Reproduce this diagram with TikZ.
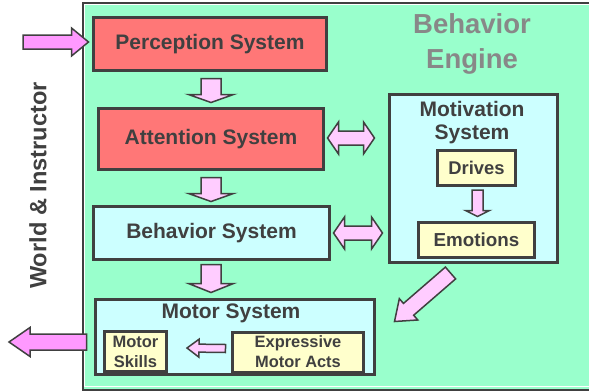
\documentclass[tikz,border=0pt]{standalone}
\usepackage{fontspec}
\setmainfont{Liberation Sans}
\usetikzlibrary{calc}
\definecolor{dk}{HTML}{404040}
\definecolor{engfill}{HTML}{99FFCC}
\definecolor{redbox}{HTML}{FF7777}
\definecolor{cyanbox}{HTML}{CCFFFF}
\definecolor{yelbox}{HTML}{FFFFCC}
\definecolor{pinkl}{HTML}{FFCCFF}
\definecolor{pinks}{HTML}{FF99FF}
\definecolor{titlegray}{HTML}{888888}
\newcommand{\fatarrow}[6][]{%
  \path ($(#3)!#6!(#2)$) coordinate (fah);
  \draw[fat,#1] ($(#2)!#4!90:(#3)$) -- ($(fah)!#4!90:(#3)$) -- ($(fah)!#5!90:(#3)$) -- (#3)
    -- ($(fah)!#5!-90:(#3)$) -- ($(fah)!#4!-90:(#3)$) -- ($(#2)!#4!-90:(#3)$) -- cycle;}
\newcommand{\dblfatarrow}[6][]{%
  \path ($(#2)!#6!(#3)$) coordinate (dha) ($(#3)!#6!(#2)$) coordinate (dhb);
  \draw[fat,#1] (#2) -- ($(dha)!#5!90:(#3)$) -- ($(dha)!#4!90:(#3)$) -- ($(dhb)!#4!90:(#3)$)
    -- ($(dhb)!#5!90:(#3)$) -- (#3) -- ($(dhb)!#5!-90:(#3)$) -- ($(dhb)!#4!-90:(#3)$)
    -- ($(dha)!#4!-90:(#3)$) -- ($(dha)!#5!-90:(#3)$) -- cycle;}
\tikzset{
  box/.style={draw=dk, line width=3pt, inner sep=0pt, text=dk, align=center,
    font=\bfseries\fontsize{21}{23}\selectfont},
  smallbox/.style={box, fill=yelbox},
  fat/.style={draw=dk, line width=1.5pt, fill=pinkl, line join=miter},
  plain/.style={inner sep=0pt, text=dk, align=center}
}
\begin{document}
\begin{tikzpicture}[x=1pt,y=-1pt]
\useasboundingbox (0,0) rectangle (589,391);
% engine
\node[draw=dk, line width=1.5pt, fill=engfill, minimum width=518pt, minimum height=387pt, inner sep=0pt, anchor=north west] (engine) at (82,2) {};
\draw[white, line width=1.2pt] (84.3,4.3) -- (600,4.3) (84.3,4.3) -- (84.3,386.7) -- (600,386.7);
\node[plain, text=titlegray, font=\bfseries\fontsize{27.5}{35}\selectfont] (engtitle) at (472,44) {Behavior\\Engine};
% world
\node[plain, rotate=90, font=\bfseries\fontsize{23.6}{26}\selectfont] (world) at (38,185.5) {World \& Instructor};
% boxes
\node[box, fill=redbox, minimum width=233pt, minimum height=53pt] (perc) at (210,44) {Perception System};
\node[box, fill=redbox, minimum width=225pt, minimum height=61pt] (att) at (211,139) {Attention System};
\node[box, fill=cyanbox, minimum width=236pt, minimum height=53pt] (beh) at (211.5,233) {Behavior System};
\node[box, fill=cyanbox, minimum width=279pt, minimum height=75pt] (motor) at (235,337) {};
\node[plain, font=\bfseries\fontsize{21}{23}\selectfont] (motortitle) at (231,313) {Motor System};
\node[smallbox, minimum width=62pt, minimum height=40pt, font=\bfseries\fontsize{16.5}{20}\selectfont] (skills) at (135.5,351.5) {Motor\\Skills};
\node[smallbox, minimum width=131pt, minimum height=40pt, font=\bfseries\fontsize{16.4}{20}\selectfont] (expr) at (298,352) {Expressive\\Motor Acts};
\node[box, fill=cyanbox, minimum width=168pt, minimum height=168pt] (motiv) at (473.5,178.5) {};
\node[plain, font=\bfseries\fontsize{21}{23}\selectfont] (motivtitle) at (472,123) {Motivation\\System};
\node[smallbox, minimum width=78pt, minimum height=35pt, font=\bfseries\fontsize{18.4}{21}\selectfont] (drives) at (476.5,168) {Drives};
\node[smallbox, minimum width=116pt, minimum height=35pt, font=\bfseries\fontsize{18.8}{21}\selectfont] (emo) at (476.5,240) {Emotions};
% arrow end points
\coordinate (a1s) at ($(perc.south)+(1,6.5)$);
\coordinate (a1e) at ($(att.north)+(0,-4.5)$);
\coordinate (a2s) at ($(att.south)+(0,6.5)$);
\coordinate (a2e) at ($(beh.north)+(-0.5,-3.5)$);
\coordinate (a3s) at ($(beh.south)+(-0.5,3.5)$);
\coordinate (a3e) at ($(beh.south |- motor.north)+(-0.5,-5.5)$);
\coordinate (d1a) at ($(att.east)+(2.5,-1)$);
\coordinate (d1b) at ($(att.east -| motiv.west)+(-13.5,-1)$);
\coordinate (d2a) at ($(beh.east)+(2.5,0)$);
\coordinate (d2b) at ($(beh.east -| motiv.west)+(-5.5,0)$);
\coordinate (dgs) at ($(motiv.south)+(-23,9)$);
\coordinate (dge) at ($(motor.north east)+(18.5,23.5)$);
\coordinate (des) at ($(drives.south)+(1,3)$);
\coordinate (dee) at ($(emo.north)+(1,-4.5)$);
\coordinate (ems) at ($(expr.west)+(-5.5,-3.5)$);
\coordinate (eme) at ($(skills.east)+(19,-3.5)$);
\coordinate (in) at (23,42);
\coordinate (ine) at ($(perc.west)+(-3.5,-2)$);
\coordinate (outs) at ($(motor.west)+(-7.5,5)$);
\coordinate (out) at (9,342);
% arrows
\fatarrow{a1s}{a1e}{10pt}{22.5pt}{8pt}
\fatarrow{a2s}{a2e}{10pt}{22.5pt}{8pt}
\fatarrow{a3s}{a3e}{10pt}{22.5pt}{9pt}
\dblfatarrow{d1a}{d1b}{7pt}{16pt}{11pt}
\dblfatarrow{d2a}{d2b}{7pt}{16pt}{11pt}
\fatarrow{dgs}{dge}{7.8pt}{14.1pt}{18.6pt}
\fatarrow{des}{dee}{5.5pt}{12pt}{6pt}
\fatarrow{ems}{eme}{4pt}{9pt}{12pt}
\fatarrow[fill=pinks]{in}{ine}{7pt}{14pt}{17pt}
\fatarrow[fill=pinks]{outs}{out}{8pt}{14.5pt}{21pt}
\end{tikzpicture}
\end{document}
